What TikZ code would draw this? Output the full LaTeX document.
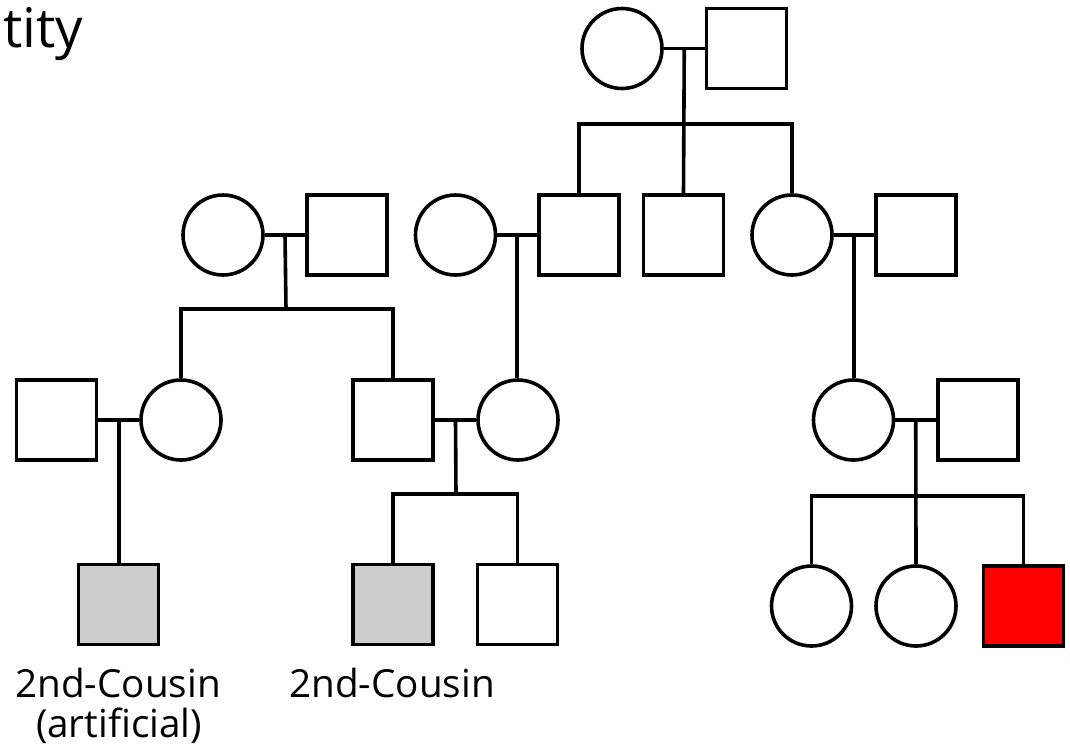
\documentclass[tikz,border=0pt]{standalone}
\usepackage{fontspec}
\setmainfont{Open Sans}
\usetikzlibrary{calc}
\definecolor{affected}{HTML}{FF0000}
\definecolor{cousin}{HTML}{CCCCCC}
\begin{document}
\begin{tikzpicture}[x=0.75pt,y=-0.75pt,
  person/.style={draw, line width=2.7pt, minimum size=60pt, inner sep=0pt, fill=white},
  male/.style={person, rectangle},
  female/.style={person, circle},
  link/.style={line width=2.7pt},
  lbl/.style={font=\fontsize{29}{35}\selectfont, inner sep=0pt, anchor=base}]
\useasboundingbox (0,0) rectangle (1070,751);

% title fragment
\node[font=\fontsize{41}{48}\selectfont, inner sep=0pt, anchor=base west] (title) at (3,47) {tity};

% generation 1
\node[female] (g1f) at (622,48.5) {};
\node[male]   (g1m) at (746.5,48.5) {};

% generation 2
\node[female] (af) at (223,235) {};
\node[male]   (am) at (347,235) {};
\node[female] (cf) at (455.5,235) {};
\node[male]   (cm) at (579,235) {};
\node[male]   (em) at (683.5,235) {};
\node[female] (ff) at (792,235) {};
\node[male]   (fm) at (916,235) {};

% generation 3
\node[male]   (hm) at (56.5,420) {};
\node[female] (hf) at (181,420) {};
\node[male]   (km) at (393,420) {};
\node[female] (kf) at (518,420) {};
\node[female] (of) at (853.5,420) {};
\node[male]   (om) at (978,420) {};

% generation 4
\node[male, fill=cousin] (j)  at (118.5,604.5) {};
\node[male, fill=cousin] (m)  at (393,604.5) {};
\node[male]              (n)  at (517.5,604.5) {};
\node[female]            (q)  at (811.5,606) {};
\node[female]            (r)  at (916,606) {};
\node[male, fill=affected] (s) at (1023.5,606) {};

% labels
\node[lbl] (lj1) at (118,697) {2nd-Cousin};
\node[lbl] (lj2) at (119,737) {(artificial)};
\node[lbl] (lm)  at (392,697) {2nd-Cousin};

% marriage lines and descent points
\draw[link] (g1f.east) -- (g1m.west);
\coordinate (d1) at ($(g1f.east)!0.5!(g1m.west)$);
\draw[link] (af.east) -- (am.west);
\coordinate (d2) at ($(af.east)!0.5!(am.west)$);
\draw[link] (cf.east) -- (cm.west);
\coordinate (d3) at ($(cf.east)!0.5!(cm.west)$);
\draw[link] (ff.east) -- (fm.west);
\coordinate (d4) at ($(ff.east)!0.5!(fm.west)$);
\draw[link] (hm.east) -- (hf.west);
\coordinate (d5) at ($(hm.east)!0.5!(hf.west)$);
\draw[link] (km.east) -- (kf.west);
\coordinate (d6) at ($(km.east)!0.5!(kf.west)$);
\draw[link] (of.east) -- (om.west);
\coordinate (d7) at ($(of.east)!0.5!(om.west)$);

% sibship bars
\coordinate (b1) at (684,124);
\coordinate (b2) at (286,309);
\coordinate (b6) at (456,494);
\coordinate (b7) at (916,496);

% generation 1 -> 2
\draw[link] (d1) -- (em.north);
\draw[link] (cm.north) |- (ff.north |- b1) -- (ff.north);

% generation 2 -> 3
\draw[link] (d2) -- (b2);
\draw[link] (hf.north) |- (km.north |- b2) -- (km.north);
\draw[link] (d3) -- (d3 |- kf.north);
\draw[link] (d4) -- (d4 |- of.north);

% generation 3 -> 4
\draw[link] (d5) -- (d5 |- j.north);
\draw[link] (d6) -- (b6);
\draw[link] (m.north) |- (n.north |- b6) -- (n.north);
\draw[link] (d7) -- (r.north);
\draw[link] (q.north) |- (s.north |- b7) -- (s.north);
\end{tikzpicture}
\end{document}
